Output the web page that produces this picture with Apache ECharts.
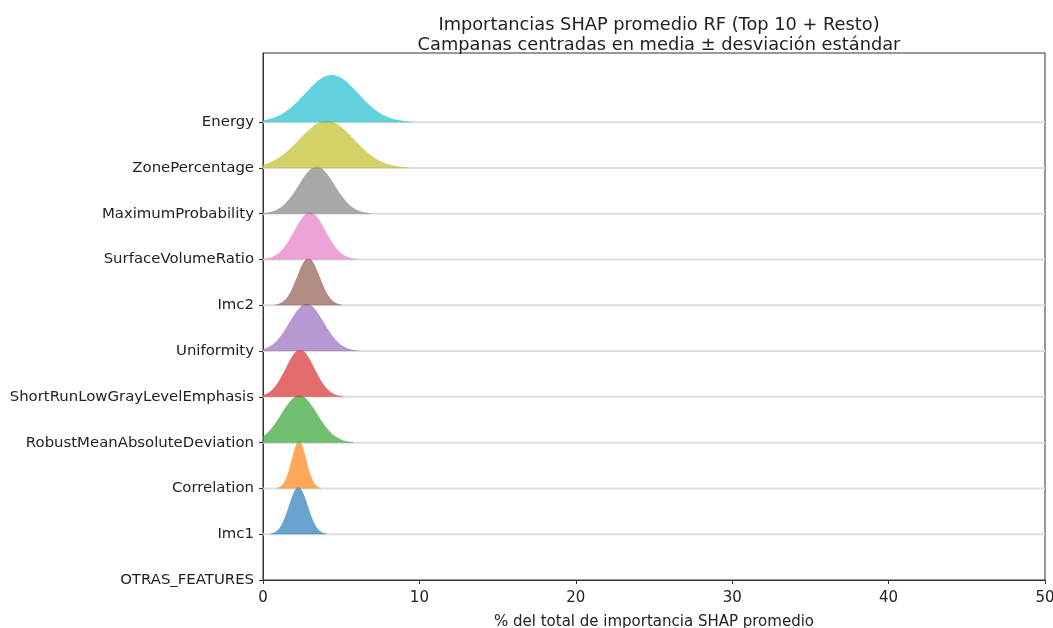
<!DOCTYPE html>
<html>
<head>
<meta charset="utf-8">
<title>Importancias SHAP promedio RF</title>
<script src="https://cdn.jsdelivr.net/npm/echarts@6/dist/echarts.min.js"></script>
<style>
  html, body { margin: 0; padding: 0; background: #fff; }
  #chart { width: 1053px; height: 628px; }
</style>
</head>
<body>
<div id="chart"></div>
<script>
// Features, bottom row first (row index = y position)
const categories = [
  'OTRAS_FEATURES', 'Imc1', 'Correlation', 'RobustMeanAbsoluteDeviation',
  'ShortRunLowGrayLevelEmphasis', 'Uniformity', 'Imc2', 'SurfaceVolumeRatio',
  'MaximumProbability', 'ZonePercentage', 'Energy'
];
// Mean share of total SHAP importance (%) per feature; the rest row has no bell
const means = [null, 2.26, 2.30, 2.32, 2.37, 2.79, 2.90, 3.00, 3.43, 4.07, 4.39];
// Standard deviation (%) per feature
const stds  = [null, 0.60, 0.47, 1.15, 0.92, 1.10, 0.72, 1.00, 1.15, 1.75, 1.70];
const colors = [
  null, '#1f77b4', '#ff7f0e', '#2ca02c', '#d62728', '#9467bd',
  '#8c564b', '#e377c2', '#7f7f7f', '#bcbd22', '#17becf'
];
const xTicks = [0, 10, 20, 30, 40, 50];

const FONT = '"DejaVu Sans", Arial, sans-serif';
const BELL_HEIGHT = 1.03;  // peak height in row units
const X_MAX = 50;

const rows = categories.map((c, i) => i);
const bellRows = rows.filter(i => means[i] !== null);

const chart = echarts.init(document.getElementById('chart'), null, { renderer: 'canvas' });

// Baseline of each row across the full x range
function renderBaseline(params, api) {
  const row = api.value(0);
  const p0 = api.coord([0, row]);
  const p1 = api.coord([X_MAX, row]);
  return {
    type: 'line',
    shape: { x1: p0[0], y1: p0[1], x2: p1[0], y2: p1[1] },
    style: { stroke: '#dddddd', lineWidth: 2 }
  };
}

// Gaussian bell centred at mean, spanning mean ± 3 sd (clipped at 0)
function renderBell(params, api) {
  const row = api.value(0);
  const mu = api.value(1);
  const sd = api.value(2);
  const lo = Math.max(0, mu - 3 * sd);
  const hi = mu + 3 * sd;
  const n = 160;
  const pts = [api.coord([lo, row])];
  for (let k = 0; k <= n; k++) {
    const x = lo + (hi - lo) * k / n;
    const z = (x - mu) / sd;
    pts.push(api.coord([x, row + BELL_HEIGHT * Math.exp(-0.5 * z * z)]));
  }
  pts.push(api.coord([hi, row]));
  return {
    type: 'polygon',
    shape: { points: pts },
    style: { fill: colors[row], opacity: 0.68 }
  };
}

const option = {
  backgroundColor: '#ffffff',
  animation: false,
  title: {
    text: 'Importancias SHAP promedio RF (Top 10 + Resto)\nCampanas centradas en media ± desviación estándar',
    left: 654,
    textAlign: 'center',
    top: 10,
    textStyle: {
      fontFamily: FONT, fontSize: 17.8, fontWeight: 'normal',
      color: '#222', lineHeight: 20.5
    }
  },
  grid: { left: 263, right: 8, top: 53, bottom: 48, show: true,
          outerBoundsMode: 'none', containLabel: false,
          borderColor: '#333', borderWidth: 1, backgroundColor: 'transparent' },
  xAxis: {
    type: 'value',
    min: 0, max: X_MAX, interval: 10,
    name: '% del total de importancia SHAP promedio',
    nameLocation: 'middle',
    nameGap: 35,
    nameTextStyle: { fontFamily: FONT, fontSize: 15, color: '#222' },
    axisLine: { show: true, lineStyle: { color: '#333', width: 1 } },
    axisTick: { show: true, inside: false, length: 4, lineStyle: { color: '#333' },
                customValues: xTicks },
    axisLabel: { fontFamily: FONT, fontSize: 15, color: '#222', margin: 11,
                 customValues: xTicks },
    splitLine: { show: false }
  },
  yAxis: {
    type: 'value',
    min: 0, max: 11.51,
    axisLine: { show: true, lineStyle: { color: '#333', width: 1 } },
    axisTick: { show: true, inside: false, length: 4, lineStyle: { color: '#333' },
                customValues: rows },
    axisLabel: {
      fontFamily: FONT, fontSize: 14.9, color: '#222', margin: 9,
      customValues: rows,
      formatter: v => categories[Math.round(v)] || ''
    },
    splitLine: { show: false }
  },
  series: [
    {
      type: 'custom',
      name: 'baseline',
      renderItem: renderBaseline,
      data: bellRows.map(i => [i]),
      encode: { y: 0 },
      clip: true,
      silent: true,
      z: 1
    },
    {
      type: 'custom',
      name: 'bells',
      renderItem: renderBell,
      data: bellRows.map(i => [i, means[i], stds[i]]),
      encode: { x: 1, y: 0 },
      clip: true,
      silent: true,
      z: 2
    }
  ]
};

chart.setOption(option);
</script>
</body>
</html>
